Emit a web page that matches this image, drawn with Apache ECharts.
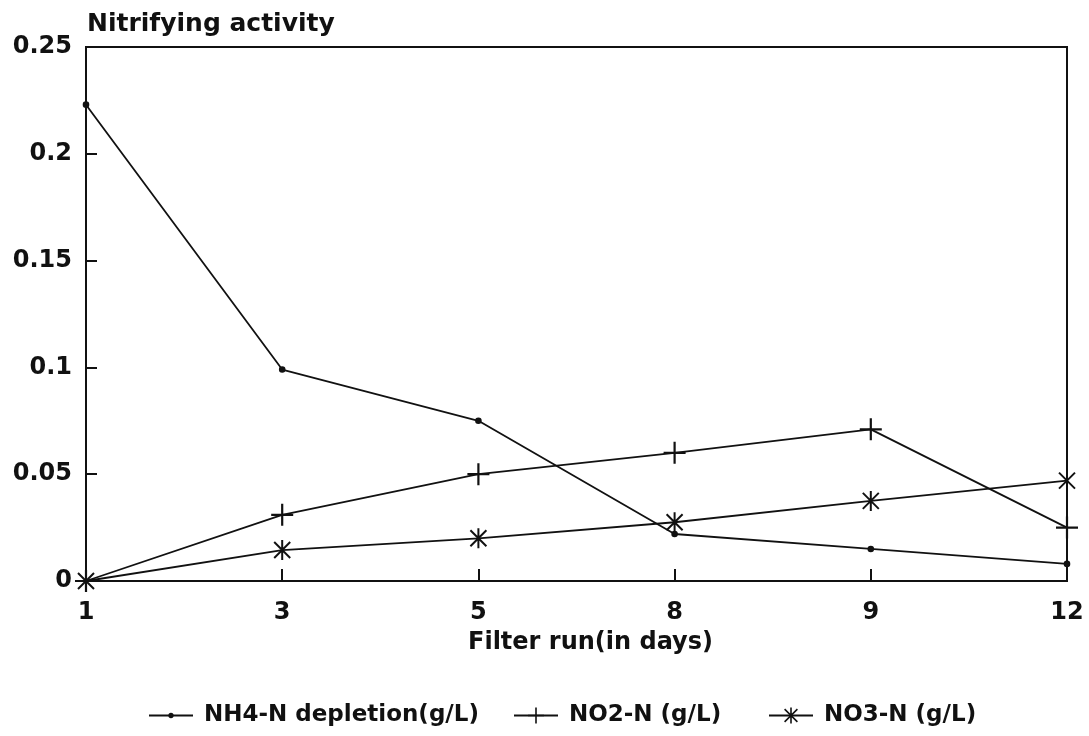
<!DOCTYPE html>
<html>
<head>
<meta charset="utf-8">
<script src="https://cdn.jsdelivr.net/npm/echarts@6/dist/echarts.min.js"></script>
<style>
  html, body { margin: 0; padding: 0; background: #fff; }
  #chart { width: 1089px; height: 736px; }
</style>
</head>
<body>
<div id="chart"></div>
<script>
// Filter run days (categorical, evenly spaced)
const days = ['1', '3', '5', '8', '9', '12'];

// Nitrifying activity, g/L
const nh4Depletion = [0.223, 0.099, 0.075, 0.022, 0.015, 0.008];
const no2N = [0, 0.031, 0.050, 0.060, 0.071, 0.025];
const no3N = [0, 0.0145, 0.020, 0.0275, 0.0375, 0.047];

const seriesNames = ['NH4-N depletion(g/L)', 'NO2-N (g/L)', 'NO3-N (g/L)'];

// Marker shapes (all drawn in a -10..10 box so they scale alike)
const dotPath = 'path://M-10,-10 L-9.9,-10 Z M10,10 L9.9,10 Z ' +
  'M-3.3,0 A3.3,3.3 0 1,0 3.3,0 A3.3,3.3 0 1,0 -3.3,0 Z';
const plusPath = 'path://M-1,-10 L1,-10 L1,10 L-1,10 Z M-10,-1 L10,-1 L10,1 L-10,1 Z';
const starPath = 'path://M-10,-10 L-9.9,-10 Z M10,10 L9.9,10 Z ' +
  'M-1,-10 L1,-10 L1,10 L-1,10 Z ' +
  'M-7.3,-8.7 L8.7,7.3 L7.3,8.7 L-8.7,-7.3 Z ' +
  'M8.7,-7.3 L-7.3,8.7 L-8.7,7.3 L7.3,-8.7 Z';

const FONT = 'DejaVu Sans';
const INK = '#111';

const chart = echarts.init(document.getElementById('chart'), null, { renderer: 'canvas' });

function lineSeries(name, data, symbol, size) {
  return {
    name: name,
    type: 'line',
    data: data,
    symbol: symbol,
    symbolSize: size,
    showAllSymbol: true,
    lineStyle: { color: INK, width: 1.8 },
    itemStyle: { color: INK, borderWidth: 0 },
    emphasis: { disabled: true },
    animation: false
  };
}

// One legend block per series so each entry sits at its own spot
function legendAt(name, left) {
  return {
    data: [name],
    left: left,
    top: 704,
    itemWidth: 44,
    itemHeight: 20,
    padding: 0,
    selectedMode: false,
    textStyle: { fontFamily: FONT, fontWeight: 'bold', fontSize: 23, color: INK, padding: [0, 0, 0, 6] }
  };
}

chart.setOption({
  backgroundColor: '#fff',
  animation: false,
  title: {
    text: 'Nitrifying activity',
    left: 82,
    top: 7,
    textStyle: { fontFamily: FONT, fontWeight: 'bold', fontSize: 25, color: INK }
  },
  grid: {
    left: 86, right: 22, top: 47, bottom: 155,
    show: true, borderColor: INK, borderWidth: 2
  },
  legend: [
    legendAt(seriesNames[0], 148),
    legendAt(seriesNames[1], 513),
    legendAt(seriesNames[2], 768)
  ],
  xAxis: {
    type: 'category',
    data: days,
    boundaryGap: false,
    name: 'Filter run(in days)',
    nameLocation: 'middle',
    nameGap: 50,
    nameTextStyle: { fontFamily: FONT, fontWeight: 'bold', fontSize: 24, color: INK, padding: [0, 0, 0, 28] },
    axisLine: { lineStyle: { color: INK, width: 2 } },
    axisTick: { inside: true, length: 12, alignWithLabel: true, lineStyle: { color: INK, width: 2 } },
    axisLabel: { fontFamily: FONT, fontWeight: 'bold', fontSize: 24, color: INK, margin: 20 },
    splitLine: { show: false }
  },
  yAxis: {
    type: 'value',
    min: 0, max: 0.25, interval: 0.05,
    axisLine: { show: true, lineStyle: { color: INK, width: 2 } },
    axisTick: { show: true, inside: true, length: 11, lineStyle: { color: INK, width: 2 } },
    axisLabel: { fontFamily: FONT, fontWeight: 'bold', fontSize: 24, color: INK, margin: 14 },
    splitLine: { show: false }
  },
  series: [
    lineSeries(seriesNames[0], nh4Depletion, dotPath, 20),
    lineSeries(seriesNames[1], no2N, plusPath, 22),
    lineSeries(seriesNames[2], no3N, starPath, 20)
  ]
});
</script>
</body>
</html>
